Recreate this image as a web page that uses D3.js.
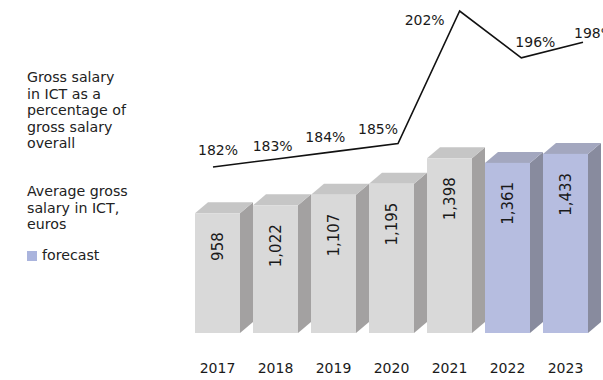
<!DOCTYPE html>
<html>
<head>
<meta charset="utf-8">
<script src="https://cdn.jsdelivr.net/npm/d3@7"></script>
<style>
  html, body { margin: 0; padding: 0; background: #ffffff; }
  svg { display: block; font-family: "DejaVu Sans", sans-serif; }
</style>
</head>
<body>
<svg id="chart" width="603" height="380"></svg>
<script>
// ICT salary data
const years = ["2017", "2018", "2019", "2020", "2021", "2022", "2023"];
const salaryEur = [958, 1022, 1107, 1195, 1398, 1361, 1433];
const ictSharePct = [182, 183, 184, 185, 202, 196, 198];
const forecastYears = ["2022", "2023"];

const legendShare = ["Gross salary", "in ICT as a", "percentage of", "gross salary", "overall"];
const legendSalary = ["Average gross", "salary in ICT,", "euros"];
const legendForecast = "forecast";

const fmt = d3.format(",");

const svg = d3.select("#chart");

// colours for actual and forecast bars (front, top, side)
const palette = {
  actual:   { front: "#d9d9d9", top: "#c6c6c6", side: "#a3a1a1" },
  forecast: { front: "#b6bde0", top: "#a3a7bf", side: "#888b9e" }
};

// bar geometry
const x = d3.scaleBand().domain(years).range([195, 588]).paddingInner(0.224).paddingOuter(0);
const y = d3.scaleLinear().domain([0, 2000]).range([333, 83]);
const depthX = 13, depthY = 11;
const bw = x.bandwidth();

svg.append("g").attr("class", "bars")
  .selectAll("g")
  .data(years.map((yr, i) => ({ year: yr, value: salaryEur[i] })))
  .join("g")
  .each(function (d) {
    const g = d3.select(this);
    const c = forecastYears.includes(d.year) ? palette.forecast : palette.actual;
    const x0 = x(d.year), x1 = x0 + bw;
    const yt = y(d.value), yb = y(0);
    // side face
    g.append("polygon")
      .attr("points", [[x1, yt], [x1 + depthX, yt - depthY], [x1 + depthX, yb - depthY], [x1, yb]].join(" "))
      .attr("fill", c.side);
    // top face
    g.append("polygon")
      .attr("points", [[x0, yt], [x0 + depthX, yt - depthY], [x1 + depthX, yt - depthY], [x1, yt]].join(" "))
      .attr("fill", c.top);
    // front face
    g.append("rect")
      .attr("x", x0).attr("y", yt)
      .attr("width", bw).attr("height", yb - yt)
      .attr("fill", c.front);
    // value label, reading upwards
    const lx = x0 + bw / 2, ly = yt + 19;
    g.append("text")
      .attr("transform", `translate(${lx},${ly}) rotate(-90)`)
      .attr("text-anchor", "end")
      .attr("dy", "0.36em")
      .attr("font-size", 15)
      .attr("fill", "#1a1a1a")
      .text(fmt(d.value));
  });

// year axis
const axis = d3.axisBottom(x).tickSize(0).tickPadding(30);
const axisG = svg.append("g").attr("transform", `translate(0,${y(0)})`).call(axis);
axisG.select(".domain").remove();
axisG.selectAll("text").attr("font-size", 14).attr("fill", "#1a1a1a")
  .attr("font-family", "DejaVu Sans, sans-serif");

// share-of-overall line
const xl = d3.scalePoint().domain(years).range([213, 583]);
const yl = d3.scaleLinear().domain([182, 202]).range([167, 11]);

const line = d3.line()
  .x((d, i) => xl(years[i]))
  .y(d => yl(d));

svg.append("path")
  .datum(ictSharePct)
  .attr("d", line)
  .attr("fill", "none")
  .attr("stroke", "#111")
  .attr("stroke-width", 1.6)
  .attr("stroke-linejoin", "miter");

// percentage labels sit beside each vertex
const pctShift = [[5, -12], [-2, -8], [-11, -9], [-20, -10], [-35, 14], [14, -11], [11, -4]];
svg.append("g").selectAll("text")
  .data(ictSharePct)
  .join("text")
  .attr("x", (d, i) => xl(years[i]) + pctShift[i][0])
  .attr("y", (d, i) => yl(d) + pctShift[i][1])
  .attr("text-anchor", "middle")
  .attr("font-size", 14)
  .attr("fill", "#1a1a1a")
  .text(d => d + "%");

// legend
const legend = svg.append("g").attr("class", "legend").attr("font-size", 14.2).attr("fill", "#222");
const lineH = 16.6;

legend.append("text")
  .attr("x", 27).attr("y", 82)
  .selectAll("tspan")
  .data(legendShare)
  .join("tspan")
  .attr("x", 27)
  .attr("dy", (d, i) => i === 0 ? 0 : lineH)
  .text(d => d);

legend.append("text")
  .attr("x", 27).attr("y", 196)
  .selectAll("tspan")
  .data(legendSalary)
  .join("tspan")
  .attr("x", 27)
  .attr("dy", (d, i) => i === 0 ? 0 : lineH)
  .text(d => d);

legend.append("rect")
  .attr("x", 27).attr("y", 251)
  .attr("width", 10).attr("height", 10)
  .attr("fill", "#aab4dd");

legend.append("text")
  .attr("x", 42).attr("y", 260)
  .text(legendForecast);
</script>
</body>
</html>
